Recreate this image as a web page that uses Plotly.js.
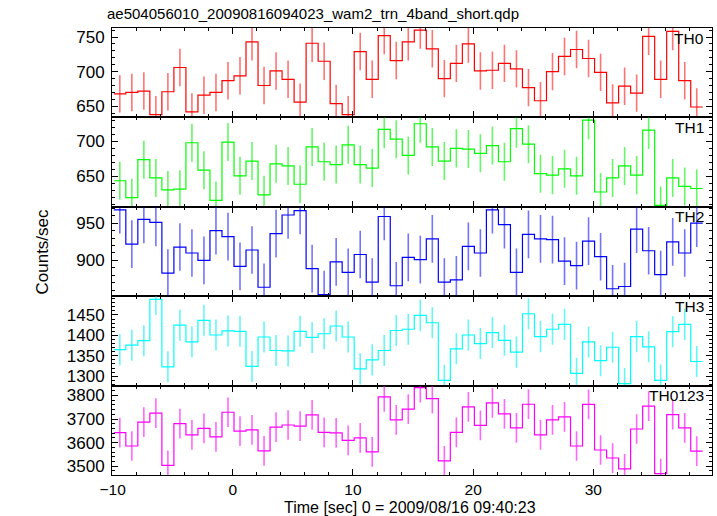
<!DOCTYPE html>
<html>
<head>
<meta charset="utf-8">
<script src="https://cdn.plot.ly/plotly-3.0.1.min.js"></script>
<style>html,body{margin:0;padding:0;background:#fff;}#chart{width:717px;height:516px;}</style>
</head>
<body>
<div id="chart"></div>
<script>
// Bin centres [sec], 1-s bins
const timeCenters = [-9.4,-8.4,-7.4,-6.4,-5.4,-4.4,-3.4,-2.4,-1.4,-0.4,0.6,1.6,2.6,3.6,4.6,5.6,6.6,7.6,8.6,9.6,10.6,11.6,12.6,13.6,14.6,15.6,16.6,17.6,18.6,19.6,20.6,21.6,22.6,23.6,24.6,25.6,26.6,27.6,28.6,29.6,30.6,31.6,32.6,33.6,34.6,35.6,36.6,37.6,38.6];
const binWidth = 1.0;

const th0 = [668,670,672,638,671,706,642,666,670,687,694,743,680,701,689,656,741,715,654,638,729,689,752,716,743,760,733,690,712,740,701,702,712,704,677,658,700,722,732,719,699,655,679,669,751,689,758,687,649];
const th1 = [644,620,674,648,631,632,698,659,616,699,651,672,624,668,665,639,692,671,667,695,667,662,717,703,680,725,692,672,690,689,683,694,671,718,696,654,652,661,651,730,628,648,665,652,716,609,648,636,633];
const th2 = [968,922,955,951,883,918,910,900,940,932,892,914,864,936,961,967,889,854,898,884,908,871,959,866,904,901,929,871,874,919,910,968,948,884,935,929,928,899,893,926,905,862,865,942,913,881,925,910,950];
const th3 = [1365,1376,1387,1488,1323,1425,1384,1437,1401,1411,1410,1324,1396,1363,1362,1410,1395,1404,1423,1396,1318,1340,1363,1412,1415,1449,1431,1290,1367,1401,1380,1407,1388,1359,1453,1397,1415,1427,1307,1384,1338,1371,1282,1397,1372,1290,1409,1427,1336];
const th0123 = [3643,3586,3687,3725,3504,3681,3633,3661,3625,3729,3649,3654,3565,3666,3675,3670,3718,3644,3642,3610,3620,3561,3794,3697,3742,3833,3787,3523,3644,3752,3673,3769,3722,3663,3763,3633,3697,3709,3586,3762,3569,3535,3489,3658,3755,3469,3719,3663,3564];

// typical 1-sigma errors
const errTH0 = 27, errTH1 = 27, errTH2 = 32, errTH3 = 38, errTH0123 = 63;

const bandNames = ["TH0","TH1","TH2","TH3","TH0123"];
const bandValues = [th0, th1, th2, th3, th0123];
const bandErrors = [errTH0, errTH1, errTH2, errTH3, errTH0123];

const lineColors = ["#ff0000","#00ff00","#0000ff","#00ffff","#ff00ff"];
const barColors = ["rgba(255,0,0,0.55)","rgba(0,240,0,0.6)","rgba(0,0,255,0.55)","rgba(0,240,240,0.6)","rgba(255,0,255,0.6)"];
const yRanges = [[634,763],[607,734],[852,972],[1277,1496],[3463,3842]];
const yDticks = [50,50,50,50,100];
const yMinor = [10,10,10,10,20];

const xRange = [-10.05, 39.87];
const traces = [];
const layout = {
  width: 717, height: 516,
  margin: {l:112, r:5, t:28, b:41},
  paper_bgcolor: "#fff", plot_bgcolor: "#fff",
  showlegend: false,
  font: {family: "Liberation Sans, Arial, sans-serif", color: "#000", size: 17},
  title: {text: "ae504056010_20090816094023_wam2_trn_4band_short.qdp",
          x: 107/717, xanchor: "left", xref: "container",
          y: 1 - 14/516, yanchor: "middle", yref: "container",
          font: {size: 15, color: "#000"}},
  annotations: []
};

const n = bandNames.length;
for (let k = 0; k < n; k++) {
  const ax = k === 0 ? "" : String(k+1);
  const xa = "x" + ax, ya = "y" + ax;
  const vals = bandValues[k];
  // step edges derived from the bin centres
  const xs = timeCenters.map(t => t - binWidth/2);
  xs.push(timeCenters[timeCenters.length-1] + binWidth/2);
  const ys = vals.slice();
  ys.push(vals[vals.length-1]);
  traces.push({x: xs, y: ys, xaxis: xa, yaxis: ya, type: "scatter", mode: "lines",
    line: {shape: "hv", color: lineColors[k], width: 1.2}, hoverinfo: "skip"});
  traces.push({x: timeCenters, y: vals, xaxis: xa, yaxis: ya, type: "scatter", mode: "markers",
    marker: {size: 1, color: "rgba(0,0,0,0)"},
    error_y: {type: "constant", value: bandErrors[k], width: 0, thickness: 1.6, color: barColors[k]},
    hoverinfo: "skip"});

  const top = 1 - k*0.2, bot = 1 - (k+1)*0.2;
  layout["xaxis" + ax] = {
    domain: [0,1], anchor: ya, range: xRange, showgrid: false, zeroline: false,
    showline: true, linecolor: "#000", linewidth: 1, mirror: "ticks",
    ticks: "inside", ticklen: 6, tickwidth: 1, tickcolor: "#000",
    dtick: 10, tick0: 0, showticklabels: k === n-1,
    tickfont: {size: 15.5},
    minor: {dtick: 2, tick0: 0, ticks: "inside", ticklen: 3, tickcolor: "#000", showgrid: false}
  };
  if (k > 0) layout["xaxis" + ax].matches = "x";
  layout["yaxis" + ax] = {
    domain: [bot, top], anchor: xa, range: yRanges[k], showgrid: false, zeroline: false,
    showline: true, linecolor: "#000", linewidth: 1, mirror: "ticks",
    ticks: "inside", ticklen: 6, tickwidth: 1, tickcolor: "#000",
    dtick: yDticks[k], tick0: 0, tickfont: {size: 17}, ticklabelstandoff: 3,
    minor: {dtick: yMinor[k], tick0: 0, ticks: "inside", ticklen: 3, tickcolor: "#000", showgrid: false}
  };
  layout.annotations.push({text: bandNames[k], xref: "paper", yref: "paper",
    x: 1, y: top, xanchor: "right", yanchor: "middle", xshift: -6, yshift: -10,
    showarrow: false, font: {size: 15.5, color: "#000"}});
}

layout.annotations.push({text: "Counts/sec", xref: "paper", yref: "paper",
  x: 0, y: 0.5, xanchor: "center", yanchor: "middle", xshift: -70, textangle: -90,
  showarrow: false, font: {size: 17, color: "#000"}});
layout.annotations.push({text: "Time [sec] 0 = 2009/08/16 09:40:23", xref: "paper", yref: "paper",
  x: 0.497, y: 0, xanchor: "center", yanchor: "middle", yshift: -32,
  showarrow: false, font: {size: 16, color: "#000"}});

Plotly.newPlot("chart", traces, layout, {staticPlot: true, displayModeBar: false});
</script>
</body>
</html>
